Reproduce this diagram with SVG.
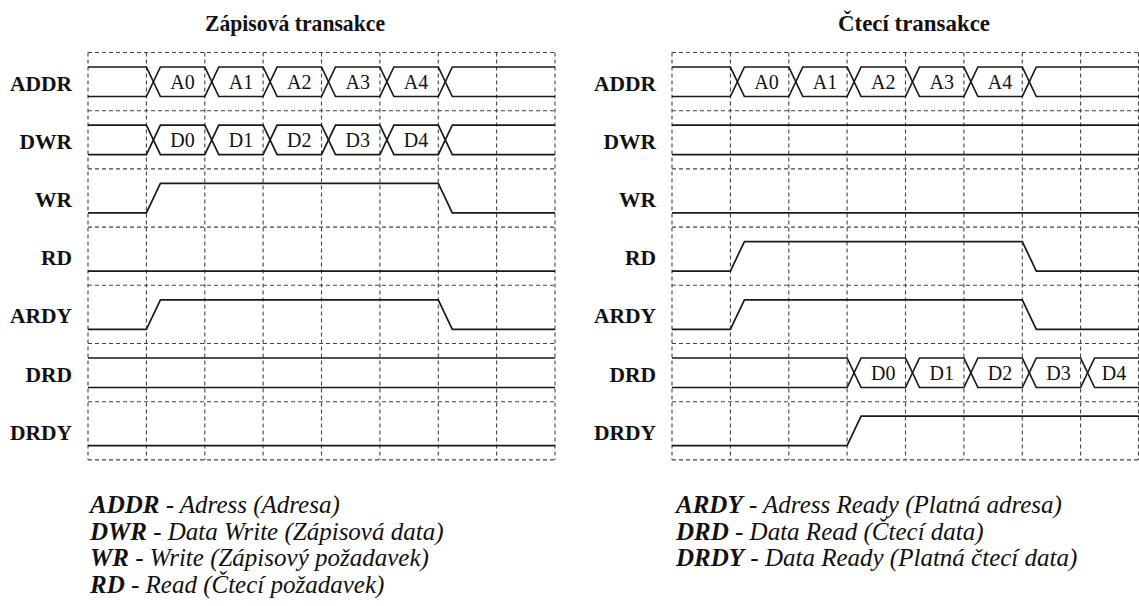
<svg xmlns="http://www.w3.org/2000/svg" width="1139" height="606" viewBox="0 0 1139 606" font-family="'Liberation Serif', serif">
<style>
.grid{stroke:#444;stroke-width:1.1;stroke-dasharray:4 3;fill:none}
.sig{stroke:#1a1a1a;stroke-width:1.7;fill:none;stroke-linejoin:miter}
text{fill:#111}
.title{font-weight:bold;font-size:23px}
.lbl{font-weight:bold;font-size:21.5px;text-anchor:end}
.val{font-size:20px;text-anchor:middle}
.leg{font-style:italic;font-size:25px}
.b{font-weight:bold}
</style>
<rect width="1139" height="606" fill="#fff"/>
<text class="title" x="205" y="31" textLength="180" lengthAdjust="spacingAndGlyphs">Zápisová transakce</text>
<text class="title" x="838" y="31" textLength="152" lengthAdjust="spacingAndGlyphs">Čtecí transakce</text>

<g id="grid-left" class="grid">
<path d="M88 52.5H555M88 110.7H555M88 168.9H555M88 227.1H555M88 285.3H555M88 343.5H555M88 401.7H555M88 459.9H555"/>
<path d="M88 52.5V459.9M146.4 52.5V459.9M204.8 52.5V459.9M263.1 52.5V459.9M321.5 52.5V459.9M379.9 52.5V459.9M438.3 52.5V459.9M496.6 52.5V459.9M555 52.5V459.9"/>
</g>
<g id="grid-right" class="grid">
<path d="M672 52.5H1139M672 110.7H1139M672 168.9H1139M672 227.1H1139M672 285.3H1139M672 343.5H1139M672 401.7H1139M672 459.9H1139"/>
<path d="M672 52.5V459.9M730.4 52.5V459.9M788.8 52.5V459.9M847.1 52.5V459.9M905.5 52.5V459.9M963.9 52.5V459.9M1022.3 52.5V459.9M1080.6 52.5V459.9M1138.5 52.5V459.9"/>
</g>

<g id="labels-left">
<text class="lbl" x="72" y="90.6">ADDR</text>
<text class="lbl" x="72" y="148.8">DWR</text>
<text class="lbl" x="72" y="207">WR</text>
<text class="lbl" x="72" y="265.2">RD</text>
<text class="lbl" x="72" y="323.4">ARDY</text>
<text class="lbl" x="72" y="381.6">DRD</text>
<text class="lbl" x="72" y="439.8">DRDY</text>
</g>
<g id="labels-right">
<text class="lbl" x="656" y="90.6">ADDR</text>
<text class="lbl" x="656" y="148.8">DWR</text>
<text class="lbl" x="656" y="207">WR</text>
<text class="lbl" x="656" y="265.2">RD</text>
<text class="lbl" x="656" y="323.4">ARDY</text>
<text class="lbl" x="656" y="381.6">DRD</text>
<text class="lbl" x="656" y="439.8">DRDY</text>
</g>

<g id="w-addr">
<path class="sig" d="M88 67H146.4L160.4 96.5H204.8L218.8 67H263.1L277.1 96.5H321.5L335.5 67H379.9L393.9 96.5H438.3L452.3 67H555"/>
<path class="sig" d="M88 96.5H146.4L160.4 67H204.8L218.8 96.5H263.1L277.1 67H321.5L335.5 96.5H379.9L393.9 67H438.3L452.3 96.5H555"/>
<text class="val" x="182.6" y="88.5">A0</text><text class="val" x="241" y="88.5">A1</text><text class="val" x="299.3" y="88.5">A2</text><text class="val" x="357.7" y="88.5">A3</text><text class="val" x="416.1" y="88.5">A4</text>
</g>
<g id="w-dwr">
<path class="sig" d="M88 125.2H146.4L160.4 154.7H204.8L218.8 125.2H263.1L277.1 154.7H321.5L335.5 125.2H379.9L393.9 154.7H438.3L452.3 125.2H555"/>
<path class="sig" d="M88 154.7H146.4L160.4 125.2H204.8L218.8 154.7H263.1L277.1 125.2H321.5L335.5 154.7H379.9L393.9 125.2H438.3L452.3 154.7H555"/>
<text class="val" x="182.6" y="146.7">D0</text><text class="val" x="241" y="146.7">D1</text><text class="val" x="299.3" y="146.7">D2</text><text class="val" x="357.7" y="146.7">D3</text><text class="val" x="416.1" y="146.7">D4</text>
</g>
<g id="w-wr"><path class="sig" d="M88 212.9H146.4L160.4 183.4H438.3L452.3 212.9H555"/></g>
<g id="w-rd"><path class="sig" d="M88 271.1H555"/></g>
<g id="w-ardy"><path class="sig" d="M88 329.3H146.4L160.4 299.8H438.3L452.3 329.3H555"/></g>
<g id="w-drd"><path class="sig" d="M88 358H555M88 387.5H555"/></g>
<g id="w-drdy"><path class="sig" d="M88 445.7H555"/></g>

<g id="r-addr">
<path class="sig" d="M672 67H730.4L744.4 96.5H788.8L802.8 67H847.1L861.1 96.5H905.5L919.5 67H963.9L977.9 96.5H1022.3L1036.3 67H1139"/>
<path class="sig" d="M672 96.5H730.4L744.4 67H788.8L802.8 96.5H847.1L861.1 67H905.5L919.5 96.5H963.9L977.9 67H1022.3L1036.3 96.5H1139"/>
<text class="val" x="766.6" y="88.5">A0</text><text class="val" x="825" y="88.5">A1</text><text class="val" x="883.3" y="88.5">A2</text><text class="val" x="941.7" y="88.5">A3</text><text class="val" x="1000.1" y="88.5">A4</text>
</g>
<g id="r-dwr"><path class="sig" d="M672 125.2H1139M672 154.7H1139"/></g>
<g id="r-wr"><path class="sig" d="M672 212.9H1139"/></g>
<g id="r-rd"><path class="sig" d="M672 271.1H730.4L744.4 241.6H1022.3L1036.3 271.1H1139"/></g>
<g id="r-ardy"><path class="sig" d="M672 329.3H730.4L744.4 299.8H1022.3L1036.3 329.3H1139"/></g>
<g id="r-drd">
<path class="sig" d="M672 358H847.1L861.1 387.5H905.5L919.5 358H963.9L977.9 387.5H1022.3L1036.3 358H1080.6L1094.6 387.5H1139"/>
<path class="sig" d="M672 387.5H847.1L861.1 358H905.5L919.5 387.5H963.9L977.9 358H1022.3L1036.3 387.5H1080.6L1094.6 358H1139"/>
<text class="val" x="883.3" y="379.5">D0</text><text class="val" x="941.7" y="379.5">D1</text><text class="val" x="1000.1" y="379.5">D2</text><text class="val" x="1058.5" y="379.5">D3</text><text class="val" x="1114" y="379.5">D4</text>
</g>
<g id="r-drdy"><path class="sig" d="M672 445.7H847.1L861.1 416.2H1139"/></g>

<g id="legend-left" class="leg">
<text x="90" y="513"><tspan class="b">ADDR</tspan> - Adress (Adresa)</text>
<text x="90" y="540"><tspan class="b">DWR</tspan> - Data Write (Zápisová data)</text>
<text x="90" y="566"><tspan class="b">WR</tspan> - Write (Zápisový požadavek)</text>
<text x="90" y="593"><tspan class="b">RD</tspan> - Read (Čtecí požadavek)</text>
</g>
<g id="legend-right" class="leg">
<text x="676" y="513"><tspan class="b">ARDY</tspan> - Adress Ready (Platná adresa)</text>
<text x="676" y="540"><tspan class="b">DRD</tspan> - Data Read (Čtecí data)</text>
<text x="676" y="566"><tspan class="b">DRDY</tspan> - Data Ready (Platná čtecí data)</text>
</g>
</svg>
